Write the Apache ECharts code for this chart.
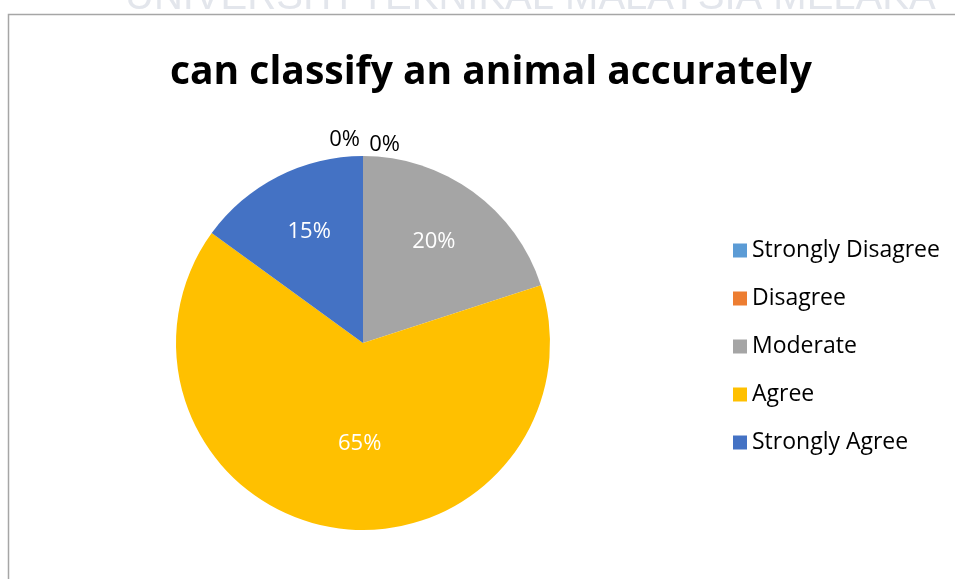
<!DOCTYPE html>
<html>
<head>
<meta charset="utf-8">
<script src="https://cdn.jsdelivr.net/npm/echarts@6/dist/echarts.min.js"></script>
<style>
  html, body { margin: 0; padding: 0; background: #fff; }
  #chart { width: 955px; height: 579px; }
</style>
</head>
<body>
<div id="chart"></div>
<script>
// 数据
const categories = ['Strongly Disagree', 'Disagree', 'Moderate', 'Agree', 'Strongly Agree'];
const percents = [0, 0, 20, 65, 15];
const colors = ['#5B9BD5', '#ED7D31', '#A5A5A5', '#FFC000', '#4472C4'];

const fontName = '"Open Sans", "Noto Sans", sans-serif';
const centerX = 363, centerY = 343;

const chart = echarts.init(document.getElementById('chart'));

const pieData = categories.map((name, i) => ({
  name: name,
  value: percents[i],
  itemStyle: { color: colors[i] },
  label: percents[i] === 0
    ? { position: 'outside', color: '#000' }
    : { position: 'inside', color: '#fff' }
}));

// 标签位置微调（仿 Excel 的数据标签位置）
function adjustLabel(params) {
  const i = params.dataIndex;
  const r = params.labelRect;
  const cx = r.x + r.width / 2, cy = r.y + r.height / 2;
  if (percents[i] === 0) {
    return i === 0 ? { dx: 2, dy: -12 } : { dx: 42, dy: -7 };
  }
  const k = percents[i] > 50 ? 1.08 : 1.32;
  return {
    dx: (cx - centerX) * (k - 1) + (percents[i] > 50 ? 13 : (cx > centerX ? -4 : 4)),
    dy: (cy - centerY) * (k - 1) + (percents[i] > 50 ? -2 : 2)
  };
}

const option = {
  backgroundColor: '#fff',
  animation: false,
  title: {
    text: 'can classify an animal accurately',
    left: 165,
    top: 48,
    textStyle: { fontFamily: fontName, fontSize: 39, fontWeight: 'bold', color: '#000' }
  },
  legend: {
    orient: 'vertical',
    left: 728,
    top: 234,
    itemWidth: 14,
    itemHeight: 14,
    itemGap: 25,
    icon: 'rect',
    data: categories,
    textStyle: { fontFamily: fontName, fontSize: 23, color: '#000', padding: [0, 0, 0, 0] }
  },
  graphic: [
    {
      type: 'text',
      left: 125,
      top: -22,
      style: {
        text: 'UNIVERSITI TEKNIKAL MALAYSIA MELAKA',
        font: '40px "Liberation Sans", sans-serif',
        fill: '#e3e6ec'
      },
      silent: true
    },
    {
      type: 'rect',
      shape: { x: 8.5, y: 14.5, width: 1200, height: 1200 },
      style: { fill: 'none', stroke: '#a6a6a6', lineWidth: 1.5 },
      silent: true
    }
  ],
  series: [
    {
      type: 'pie',
      center: [centerX, centerY],
      radius: 187,
      startAngle: 90,
      clockwise: true,
      avoidLabelOverlap: false,
      label: {
        show: true,
        formatter: '{c}%',
        fontFamily: fontName,
        fontSize: 22
      },
      labelLine: { show: false, length: 4, length2: 0 },
      labelLayout: adjustLabel,
      emphasis: { disabled: true },
      data: pieData
    }
  ]
};

chart.setOption(option);
</script>
</body>
</html>
